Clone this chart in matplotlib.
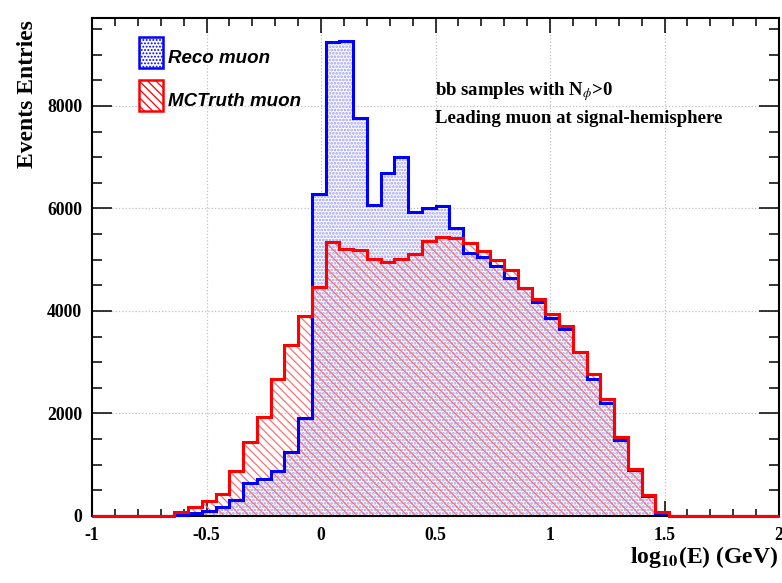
import numpy as np
import matplotlib
matplotlib.use('Agg')
import matplotlib.pyplot as plt
from matplotlib.patches import Rectangle
from matplotlib.ticker import MultipleLocator, FuncFormatter

# log10(E) histograms, 50 bins from -1 to 2
bin_edges = np.linspace(-1.0, 2.0, 51)
reco_muon = [0, 0, 0, 0, 0, 0, 25, 60, 95, 172,
             312, 637, 729, 885, 1242, 1918, 6275, 9254, 9270, 7771,
             6068, 6686, 7004, 5930, 6010, 6050, 5620, 5125, 5060, 4877,
             4637, 4440, 4172, 3870, 3655, 3193, 2670, 2198, 1483, 897,
             385, 68, 0, 0, 0, 0, 0, 0, 0, 0]
mctruth_muon = [0, 0, 0, 0, 0, 0, 80, 180, 293, 426,
                880, 1445, 1922, 2673, 3336, 3902, 4474, 5343, 5216, 5190,
                5020, 4949, 5020, 5120, 5372, 5450, 5415, 5330, 5172, 4994,
                4806, 4458, 4238, 3940, 3713, 3206, 2768, 2283, 1548, 920,
                410, 82, 0, 0, 0, 0, 0, 0, 0, 0]

plt.rcParams['axes.unicode_minus'] = False
plt.rcParams['mathtext.fontset'] = 'stix'
serif_bold = dict(family='Liberation Serif', weight='bold')

fig = plt.figure(figsize=(7.82, 5.83), dpi=100)
ax = fig.add_axes([92 / 782, 1 - 516 / 583, 687 / 782, 498 / 583])

# fills: blue dots first, red hatch on top
plt.rcParams['hatch.linewidth'] = 1.3
ax.stairs(reco_muon, bin_edges, fill=True, facecolor='white', edgecolor='#9a9aff',
          hatch='.....', linewidth=0, zorder=1)
plt.rcParams['hatch.linewidth'] = 0.9
ax.stairs(mctruth_muon, bin_edges, fill=True, facecolor='none', edgecolor='#ff7070',
          hatch='\\\\\\\\', linewidth=0, zorder=2)
ax.stairs(reco_muon, bin_edges, color='#0000ff', linewidth=2.2, zorder=3, clip_on=False)
ax.stairs(mctruth_muon, bin_edges, color='#ff0000', linewidth=2.2, zorder=4, clip_on=False)

ax.set_xlim(-1, 2)
ax.set_ylim(0, 9717)
ax.xaxis.set_major_locator(MultipleLocator(0.5))
ax.xaxis.set_minor_locator(MultipleLocator(0.1))
ax.yaxis.set_major_locator(MultipleLocator(2000))
ax.yaxis.set_minor_locator(MultipleLocator(500))
ax.xaxis.set_major_formatter(FuncFormatter(lambda v, p: '%g' % v))

ax.set_axisbelow(True)
ax.grid(True, which='major', linestyle=':', color='#c0c0c0', linewidth=0.9)
for s in ax.spines.values():
    s.set_linewidth(1.5)
    s.set_zorder(2.5)

ax.tick_params(axis='x', which='major', direction='in', length=10.8, width=1.1,
               top=True, pad=8)
ax.tick_params(axis='x', which='minor', direction='in', length=5.4, width=1.1, top=True)
ax.tick_params(axis='y', which='major', direction='in', length=14.4, width=1.1,
               right=True, pad=7)
ax.tick_params(axis='y', which='minor', direction='in', length=7.2, width=1.1, right=True)
for lab in ax.get_xticklabels() + ax.get_yticklabels():
    lab.set_fontfamily('Liberation Serif')
    lab.set_fontweight('bold')
    lab.set_fontsize(12.7)

ax.text(-0.0946, 0.996, 'Events Entries', transform=ax.transAxes, rotation=90,
        ha='center', va='top', fontsize=17, **serif_bold)
ax.text(0.9985, -0.094, r'log$_{\mathbf{10}}$(E) (GeV)', transform=ax.transAxes,
        ha='right', va='baseline', fontsize=17, **serif_bold)

# legend
ax.add_patch(Rectangle((0.0689, 0.9002), 0.034, 0.0623, transform=ax.transAxes,
                       facecolor='white', edgecolor='#0000ff', linewidth=1.8,
                       hatch='.....', zorder=7))
ax.add_patch(Rectangle((0.0689, 0.8133), 0.034, 0.0622, transform=ax.transAxes,
                       facecolor='white', edgecolor='#ff0000', linewidth=1.8,
                       hatch='\\\\\\\\', zorder=7))
ax.text(0.111, 0.9102, 'Reco muon', transform=ax.transAxes, ha='left', va='baseline',
        fontsize=13.5, family='Liberation Sans', weight='bold', style='italic')
ax.text(0.111, 0.8233, 'MCTruth muon', transform=ax.transAxes, ha='left', va='baseline',
        fontsize=13.5, family='Liberation Sans', weight='bold', style='italic')

ax.text(0.4993, 0.8454, r'bb samples with N$_{\phi}$>0', transform=ax.transAxes,
        ha='left', va='baseline', fontsize=13.5, **serif_bold)
ax.text(0.4993, 0.7885, 'Leading muon at signal-hemisphere', transform=ax.transAxes,
        ha='left', va='baseline', fontsize=13.5, **serif_bold)

fig.savefig('out.png', dpi=100)
